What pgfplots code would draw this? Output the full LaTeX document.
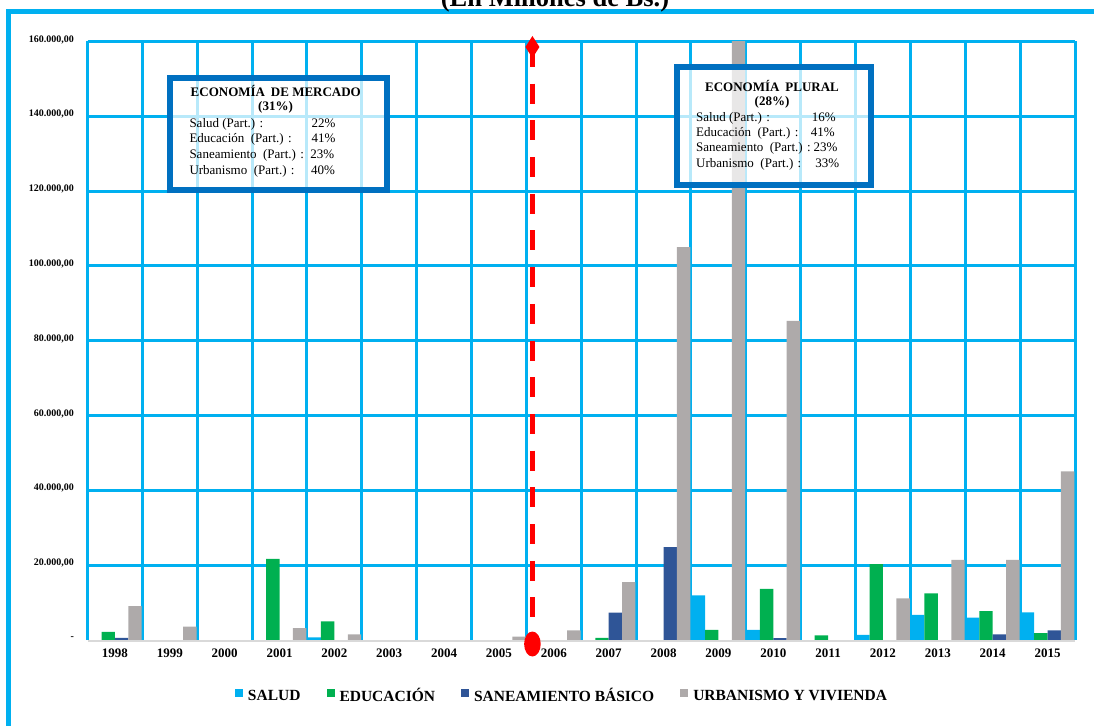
\documentclass[border=0pt]{standalone}
\usepackage{pgfplots}
\pgfplotsset{compat=1.18}
\usepackage{pgfplotstable}
\usepackage{fontspec}
\setmainfont{Liberation Serif}

\definecolor{cSalud}{HTML}{00B0F0}
\definecolor{cEdu}{HTML}{00B050}
\definecolor{cSan}{HTML}{2F5597}
\definecolor{cUrb}{HTML}{AEAAAA}
\definecolor{cGrid}{HTML}{00B0F0}
\definecolor{cBox}{HTML}{0070C0}
\definecolor{cBase}{HTML}{D9D9D9}

% Gasto por sector (millones de Bs.), 1998 = 0 ... 2015 = 17
\pgfplotstableread{
x  salud  educ   sanea  urban
0  0      2200   600    9070
1  0      0      0      3550
2  0      0      0      0
3  0      21700  0      3200
4  700    5000   0      1500
5  0      0      0      0
6  0      0      0      0
7  0      0      0      900
8  0      0      0      2600
9  0      600    7300   15450
10 0      0      24800  105000
11 11950  2700   0      175000
12 2700   13650  500    85300
13 0      1250   0      0
14 1400   20300  0      11100
15 6700   12450  0      21400
16 5950   7730   1500   21400
17 7400   1870   2580   45070
}\gasto

\newcommand\bt{\fontsize{13}{15}\selectfont}

\begin{document}
\begin{tikzpicture}[x=1pt,y=1pt]
\useasboundingbox (0,0) rectangle (1094,725);

% marco exterior
\draw[cGrid, line width=5pt, line join=miter] (8.5,-10) -- (8.5,713.3) -- (1110,713.3);

% subtitulo
\node[anchor=base, font=\fontsize{26.5}{30}\selectfont\bfseries] at (555,718) {(En Millones de Bs.)};

\begin{axis}[
  at={(87.5pt,85pt)}, anchor=south west,
  width=987.5pt, height=598.5pt, scale only axis,
  xmin=-0.5, xmax=17.5, ymin=0, ymax=160000,
  scaled y ticks=false,
  ybar=0pt, bar width=13.4pt,
  axis line style={draw=none},
  tick style={draw=none},
  major tick length=0pt, minor tick length=0pt,
  xtick={0,...,17},
  xticklabels={1998,1999,2000,2001,2002,2003,2004,2005,2006,2007,2008,2009,2010,2011,2012,2013,2014,2015},
  minor xtick={-0.5,0.5,...,17.5},
  ytick={20000,40000,...,160000},
  yticklabels={{20.000,00},{40.000,00},{60.000,00},{80.000,00},{100.000,00},{120.000,00},{140.000,00},{160.000,00}},
  extra y ticks={0},
  extra y tick labels={{-\hspace{4pt}}},
  extra y tick style={grid=none},
  xmajorgrids=false, xminorgrids=true, ymajorgrids=true,
  major grid style={cGrid, line width=3pt},
  minor grid style={cGrid, line width=3pt},
  xticklabel style={font=\fontsize{13}{15}\selectfont\bfseries, yshift=-5pt},
  yticklabel style={font=\fontsize{10}{12}\selectfont\bfseries, xshift=-10pt, yshift=2pt},
  legend style={at={(0.4805,-0.0936)}, anchor=center, draw=none, fill=none,
    legend columns=4, font=\fontsize{15.5}{18}\selectfont\bfseries,
    /tikz/every even column/.append style={column sep=24pt},
    /tikz/every odd column/.append style={column sep=3pt}},
  legend image code/.code={\fill[#1] (0pt,-1pt) rectangle (8pt,7pt);},
]
\addplot[fill=cSalud, draw=none] table[x=x, y=salud] {\gasto};
\addplot[fill=cEdu, draw=none] table[x=x, y=educ] {\gasto};
\addplot[fill=cSan, draw=none] table[x=x, y=sanea] {\gasto};
\addplot[fill=cUrb, draw=none] table[x=x, y=urban] {\gasto};
\legend{SALUD, EDUCACIÓN, SANEAMIENTO BÁSICO, URBANISMO Y VIVIENDA}
\coordinate (bl) at (axis cs:-0.5,0);
\coordinate (br) at (axis cs:17.5,0);
\coordinate (rtop) at (axis cs:7.61,158530);
\coordinate (rbot) at (axis cs:7.61,-1070);
\end{axis}

% linea base
\draw[cBase, line width=1.8pt] ([yshift=-0.9pt]bl) -- ([yshift=-0.9pt]br);

% recuadro: economia de mercado
\fill[white, opacity=0.72] (170.3,647) rectangle (387,535.3);
\draw[cBox, line width=6pt] (170.3,647) rectangle (387,535.3);
\node[anchor=base, font=\bt\bfseries] at (275.8,628.3) {ECONOMÍA\hspace{0.45em}DE MERCADO};
\node[anchor=base, font=\bt\bfseries] at (275.5,614.5) {(31\%)};
\begin{scope}[every node/.style={anchor=base west, inner sep=0pt, font=\bt}]
\node at (189.3,597.5) {Salud (Part.) :};
\node at (189.3,582) {Educación\ \ (Part.) :};
\node at (189.3,566.2) {Saneamiento\ \ (Part.) :};
\node at (189.3,550.5) {Urbanismo\ \ (Part.) :};
\node at (311.5,597.5) {22\%};
\node at (311.5,582) {41\%};
\node at (310.2,566.2) {23\%};
\node at (310.8,550.5) {40\%};
\end{scope}

% recuadro: economia plural
\fill[white, opacity=0.72] (677,658) rectangle (871,539.7);
\draw[cBox, line width=6pt] (677,658) rectangle (871,539.7);
\node[anchor=base, font=\bt\bfseries] at (772,633.5) {ECONOMÍA\hspace{0.45em}PLURAL};
\node[anchor=base, font=\bt\bfseries] at (772,619.5) {(28\%)};
\begin{scope}[every node/.style={anchor=base west, inner sep=0pt, font=\bt}]
\node at (696,603.5) {Salud (Part.) :};
\node at (696,588.5) {Educación\ \ (Part.) :};
\node at (696,573) {Saneamiento\ \ (Part.) :};
\node at (696,557.5) {Urbanismo\ \ (Part.) :};
\end{scope}
\begin{scope}[every node/.style={anchor=base east, inner sep=0pt, font=\bt}]
\node at (836,603.5) {16\%};
\node at (835,588.5) {41\%};
\node at (837.7,573) {23\%};
\node at (839.3,557.5) {33\%};
\end{scope}

% linea divisoria 2005/2006
\draw[red, line width=4.7pt, dash pattern=on 20pt off 16.7pt] (rtop) -- (rbot);
\fill[red] (rtop) ++(0,11) -- ++(7,-11) -- ++(-7,-11) -- ++(-7,11) -- cycle;
\fill[red] (rbot) ellipse [x radius=8.3, y radius=12.5];
\end{tikzpicture}
\end{document}
